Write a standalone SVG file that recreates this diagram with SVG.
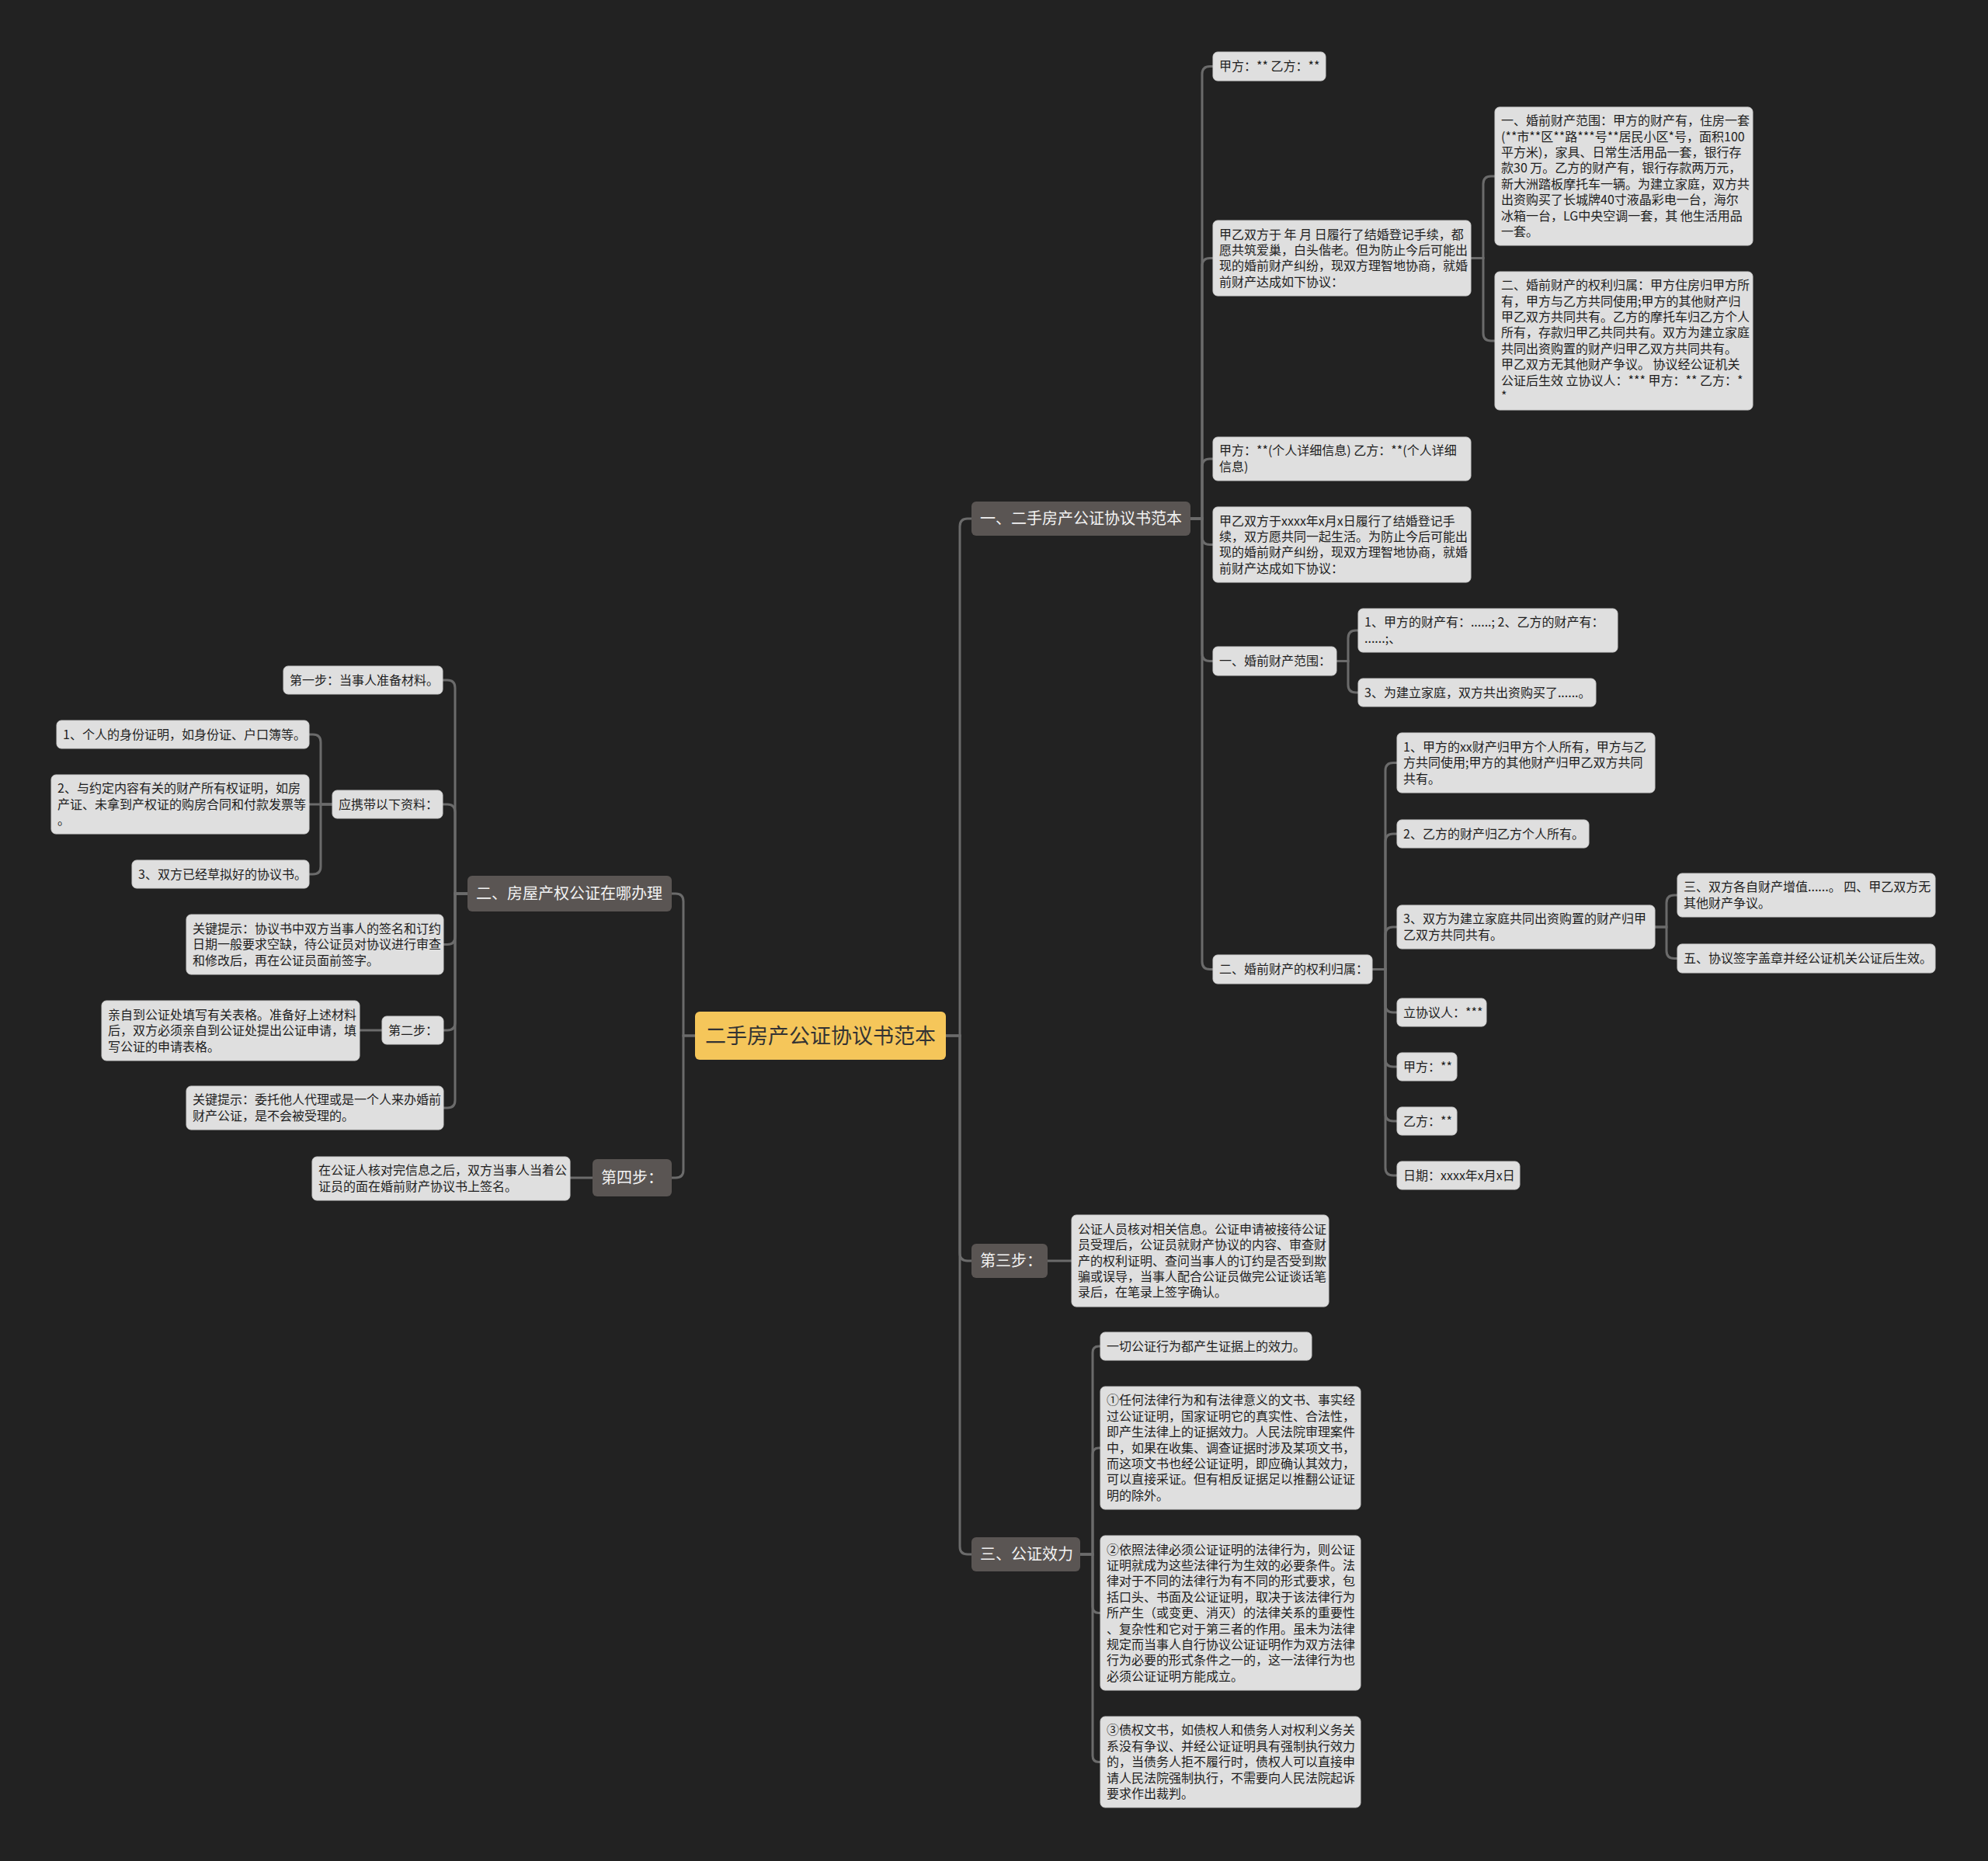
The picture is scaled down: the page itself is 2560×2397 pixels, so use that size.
<svg xmlns="http://www.w3.org/2000/svg" width="2560" height="2397" viewBox="0 0 2560 2397">
<style>
.bg{fill:#222222}
.lt rect{fill:#dfdfdf;stroke:#cfcfcf;stroke-width:1}
.lt text{font-family:"Noto Sans CJK SC","Noto Sans",sans-serif;font-size:16px;fill:#1e1e1e}
.dk rect{fill:#5a5553}
.dk text{font-family:"Noto Sans CJK SC","Noto Sans",sans-serif;font-size:20px;fill:#f2f2f2}
.rt rect{fill:#f5c65a}
.rt text{font-family:"Noto Sans CJK SC","Noto Sans",sans-serif;font-size:27px;fill:#333333;text-anchor:middle}
#connectors path{fill:none;stroke:#6b6b6b;stroke-width:3}
</style>
<rect class="bg" x="0" y="0" width="2560" height="2397"/>
<g id="connectors">
<path d="M1218 1334H1236V678Q1236 668 1246 668H1251"/>
<path d="M1218 1334H1236V1614Q1236 1624 1246 1624H1251"/>
<path d="M1218 1334H1236V1992Q1236 2002 1246 2002H1251"/>
<path d="M895 1334H880V1161Q880 1151 870 1151H865"/>
<path d="M895 1334H880V1507Q880 1517 870 1517H865"/>
<path d="M1533 668H1548V95.5Q1548 85.5 1558 85.5H1562"/>
<path d="M1533 668H1548V342.5Q1548 332.5 1558 332.5H1562"/>
<path d="M1533 668H1548V601Q1548 591 1558 591H1562"/>
<path d="M1533 668H1548V691.5Q1548 701.5 1558 701.5H1562"/>
<path d="M1533 668H1548V841.5Q1548 851.5 1558 851.5H1562"/>
<path d="M1533 668H1548V1238.5Q1548 1248.5 1558 1248.5H1562"/>
<path d="M1894 332.5H1910V237Q1910 227 1920 227H1925"/>
<path d="M1894 332.5H1910V429Q1910 439 1920 439H1925"/>
<path d="M1721 851.5H1736V822Q1736 812 1746 812H1749"/>
<path d="M1721 851.5H1736V882Q1736 892 1746 892H1749"/>
<path d="M1767 1248.5H1784V992.5Q1784 982.5 1794 982.5H1799"/>
<path d="M1767 1248.5H1784V1084Q1784 1074 1794 1074H1799"/>
<path d="M1767 1248.5H1784V1204Q1784 1194 1794 1194H1799"/>
<path d="M1767 1248.5H1784V1294Q1784 1304 1794 1304H1799"/>
<path d="M1767 1248.5H1784V1364Q1784 1374 1794 1374H1799"/>
<path d="M1767 1248.5H1784V1434Q1784 1444 1794 1444H1799"/>
<path d="M1767 1248.5H1784V1504Q1784 1514 1794 1514H1799"/>
<path d="M2131 1194H2146V1163Q2146 1153 2156 1153H2160"/>
<path d="M2131 1194H2146V1224.5Q2146 1234.5 2156 1234.5H2160"/>
<path d="M1349 1624H1380"/>
<path d="M1391 2002H1407V1742Q1407 1734 1415 1734H1417"/>
<path d="M1391 2002H1407V1873Q1407 1865 1415 1865H1417"/>
<path d="M1391 2002H1407V2069.5Q1407 2077.5 1415 2077.5H1417"/>
<path d="M1391 2002H1407V2261.5Q1407 2269.5 1415 2269.5H1417"/>
<path d="M602 1151H586V886Q586 876 576 876H570"/>
<path d="M602 1151H586V1046Q586 1036 576 1036H570"/>
<path d="M602 1151H586V1206.5Q586 1216.5 576 1216.5H570"/>
<path d="M602 1151H586V1317Q586 1327 576 1327H570"/>
<path d="M602 1151H586V1417Q586 1427 576 1427H570"/>
<path d="M428 1036H413V956Q413 946 403 946H398"/>
<path d="M428 1036H398"/>
<path d="M428 1036H413V1116Q413 1126 403 1126H398"/>
<path d="M492 1327H463"/>
<path d="M763 1517H734"/>
</g>
<g id="root" class="rt"><rect x="895" y="1303" width="323" height="62" rx="6"/><text x="1056.5" y="1343.5">二手房产公证协议书范本</text></g>
<g id="r1" class="dk"><rect x="1251" y="646" width="282" height="44" rx="6"/><text x="1262" y="675">一、二手房产公证协议书范本</text></g>
<g id="r2" class="dk"><rect x="1251" y="1602" width="98" height="44" rx="6"/><text x="1262" y="1631">第三步：</text></g>
<g id="r3" class="dk"><rect x="1251" y="1980" width="140" height="44" rx="6"/><text x="1262" y="2009">三、公证效力</text></g>
<g id="l1" class="dk"><rect x="602" y="1128" width="263" height="46" rx="6"/><text x="613" y="1158">二、房屋产权公证在哪办理</text></g>
<g id="l2" class="dk"><rect x="763" y="1493" width="102" height="48" rx="6"/><text x="774" y="1524">第四步：</text></g>
<g id="n1" class="lt"><rect x="1562" y="67" width="145" height="37" rx="6"/><text x="1570" y="91.1">甲方：** 乙方：**</text></g>
<g id="n2" class="lt"><rect x="1562" y="284" width="332" height="97" rx="6"/><text x="1570" y="307.5"><tspan x="1570">甲乙双方于 年 月 日履行了结婚登记手续，都</tspan><tspan x="1570" dy="20.4">愿共筑爱巢，白头偕老。但为防止今后可能出</tspan><tspan x="1570" dy="20.4">现的婚前财产纠纷，现双方理智地协商，就婚</tspan><tspan x="1570" dy="20.4">前财产达成如下协议：</tspan></text></g>
<g id="n2a" class="lt"><rect x="1925" y="138" width="332" height="178" rx="6"/><text x="1933" y="161.2"><tspan x="1933">一、婚前财产范围：甲方的财产有，住房一套</tspan><tspan x="1933" dy="20.4">(**市**区**路***号**居民小区*号，面积100</tspan><tspan x="1933" dy="20.4">平方米)，家具、日常生活用品一套，银行存</tspan><tspan x="1933" dy="20.4">款30 万。乙方的财产有，银行存款两万元，</tspan><tspan x="1933" dy="20.4">新大洲踏板摩托车一辆。为建立家庭，双方共</tspan><tspan x="1933" dy="20.4">出资购买了长城牌40寸液晶彩电一台，海尔</tspan><tspan x="1933" dy="20.4">冰箱一台，LG中央空调一套，其 他生活用品</tspan><tspan x="1933" dy="20.4">一套。</tspan></text></g>
<g id="n2b" class="lt"><rect x="1925" y="350" width="332" height="178" rx="6"/><text x="1933" y="373.2"><tspan x="1933">二、婚前财产的权利归属：甲方住房归甲方所</tspan><tspan x="1933" dy="20.4">有，甲方与乙方共同使用;甲方的其他财产归</tspan><tspan x="1933" dy="20.4">甲乙双方共同共有。乙方的摩托车归乙方个人</tspan><tspan x="1933" dy="20.4">所有，存款归甲乙共同共有。双方为建立家庭</tspan><tspan x="1933" dy="20.4">共同出资购置的财产归甲乙双方共同共有。</tspan><tspan x="1933" dy="20.4">甲乙双方无其他财产争议。 协议经公证机关</tspan><tspan x="1933" dy="20.4">公证后生效 立协议人：*** 甲方：** 乙方：*</tspan><tspan x="1933" dy="20.4">*</tspan></text></g>
<g id="n3" class="lt"><rect x="1562" y="563" width="332" height="56" rx="6"/><text x="1570" y="586.4"><tspan x="1570">甲方：**(个人详细信息) 乙方：**(个人详细</tspan><tspan x="1570" dy="20.4">信息)</tspan></text></g>
<g id="n4" class="lt"><rect x="1562" y="653" width="332" height="97" rx="6"/><text x="1570" y="676.5"><tspan x="1570">甲乙双方于xxxx年x月x日履行了结婚登记手</tspan><tspan x="1570" dy="20.4">续，双方愿共同一起生活。为防止今后可能出</tspan><tspan x="1570" dy="20.4">现的婚前财产纠纷，现双方理智地协商，就婚</tspan><tspan x="1570" dy="20.4">前财产达成如下协议：</tspan></text></g>
<g id="n5" class="lt"><rect x="1562" y="833" width="159" height="37" rx="6"/><text x="1570" y="857.1">一、婚前财产范围：</text></g>
<g id="n5a" class="lt"><rect x="1749" y="784" width="334" height="56" rx="6"/><text x="1757" y="807.4"><tspan x="1757">1、甲方的财产有：......; 2、乙方的财产有：</tspan><tspan x="1757" dy="20.4">......;、</tspan></text></g>
<g id="n5b" class="lt"><rect x="1749" y="874" width="306" height="36" rx="6"/><text x="1757" y="897.6">3、为建立家庭，双方共出资购买了......。</text></g>
<g id="n6" class="lt"><rect x="1562" y="1230" width="205" height="37" rx="6"/><text x="1570" y="1254.1">二、婚前财产的权利归属：</text></g>
<g id="n6a" class="lt"><rect x="1799" y="944" width="332" height="77" rx="6"/><text x="1807" y="967.7"><tspan x="1807">1、甲方的xx财产归甲方个人所有，甲方与乙</tspan><tspan x="1807" dy="20.4">方共同使用;甲方的其他财产归甲乙双方共同</tspan><tspan x="1807" dy="20.4">共有。</tspan></text></g>
<g id="n6b" class="lt"><rect x="1799" y="1056" width="247" height="36" rx="6"/><text x="1807" y="1079.6">2、乙方的财产归乙方个人所有。</text></g>
<g id="n6c" class="lt"><rect x="1799" y="1166" width="332" height="56" rx="6"/><text x="1807" y="1189.4"><tspan x="1807">3、双方为建立家庭共同出资购置的财产归甲</tspan><tspan x="1807" dy="20.4">乙双方共同共有。</tspan></text></g>
<g id="n6c1" class="lt"><rect x="2160" y="1125" width="332" height="56" rx="6"/><text x="2168" y="1148.4"><tspan x="2168">三、双方各自财产增值......。 四、甲乙双方无</tspan><tspan x="2168" dy="20.4">其他财产争议。</tspan></text></g>
<g id="n6c2" class="lt"><rect x="2160" y="1216" width="332" height="37" rx="6"/><text x="2168" y="1240.1">五、协议签字盖章并经公证机关公证后生效。</text></g>
<g id="n6d" class="lt"><rect x="1799" y="1286" width="115" height="36" rx="6"/><text x="1807" y="1309.6">立协议人：***</text></g>
<g id="n6e" class="lt"><rect x="1799" y="1356" width="77" height="36" rx="6"/><text x="1807" y="1379.6">甲方：**</text></g>
<g id="n6f" class="lt"><rect x="1799" y="1426" width="77" height="36" rx="6"/><text x="1807" y="1449.6">乙方：**</text></g>
<g id="n6g" class="lt"><rect x="1799" y="1496" width="158" height="36" rx="6"/><text x="1807" y="1519.6">日期：xxxx年x月x日</text></g>
<g id="n7" class="lt"><rect x="1380" y="1565" width="331" height="118" rx="6"/><text x="1388" y="1588.8"><tspan x="1388">公证人员核对相关信息。公证申请被接待公证</tspan><tspan x="1388" dy="20.4">员受理后，公证员就财产协议的内容、审查财</tspan><tspan x="1388" dy="20.4">产的权利证明、查问当事人的订约是否受到欺</tspan><tspan x="1388" dy="20.4">骗或误导，当事人配合公证员做完公证谈话笔</tspan><tspan x="1388" dy="20.4">录后，在笔录上签字确认。</tspan></text></g>
<g id="n8" class="lt"><rect x="1417" y="1716" width="272" height="36" rx="6"/><text x="1425" y="1739.6">一切公证行为都产生证据上的效力。</text></g>
<g id="n9" class="lt"><rect x="1417" y="1786" width="335" height="158" rx="6"/><text x="1425" y="1809.4"><tspan x="1425">①任何法律行为和有法律意义的文书、事实经</tspan><tspan x="1425" dy="20.4">过公证证明，国家证明它的真实性、合法性，</tspan><tspan x="1425" dy="20.4">即产生法律上的证据效力。人民法院审理案件</tspan><tspan x="1425" dy="20.4">中，如果在收集、调查证据时涉及某项文书，</tspan><tspan x="1425" dy="20.4">而这项文书也经公证证明，即应确认其效力，</tspan><tspan x="1425" dy="20.4">可以直接采证。但有相反证据足以推翻公证证</tspan><tspan x="1425" dy="20.4">明的除外。</tspan></text></g>
<g id="n10" class="lt"><rect x="1417" y="1978" width="335" height="199" rx="6"/><text x="1425" y="2001.5"><tspan x="1425">②依照法律必须公证证明的法律行为，则公证</tspan><tspan x="1425" dy="20.4">证明就成为这些法律行为生效的必要条件。法</tspan><tspan x="1425" dy="20.4">律对于不同的法律行为有不同的形式要求，包</tspan><tspan x="1425" dy="20.4">括口头、书面及公证证明，取决于该法律行为</tspan><tspan x="1425" dy="20.4">所产生（或变更、消灭）的法律关系的重要性</tspan><tspan x="1425" dy="20.4">、复杂性和它对于第三者的作用。虽未为法律</tspan><tspan x="1425" dy="20.4">规定而当事人自行协议公证证明作为双方法律</tspan><tspan x="1425" dy="20.4">行为必要的形式条件之一的，这一法律行为也</tspan><tspan x="1425" dy="20.4">必须公证证明方能成立。</tspan></text></g>
<g id="n11" class="lt"><rect x="1417" y="2211" width="335" height="117" rx="6"/><text x="1425" y="2234.3"><tspan x="1425">③债权文书，如债权人和债务人对权利义务关</tspan><tspan x="1425" dy="20.4">系没有争议、并经公证证明具有强制执行效力</tspan><tspan x="1425" dy="20.4">的，当债务人拒不履行时，债权人可以直接申</tspan><tspan x="1425" dy="20.4">请人民法院强制执行，不需要向人民法院起诉</tspan><tspan x="1425" dy="20.4">要求作出裁判。</tspan></text></g>
<g id="m1" class="lt"><rect x="365" y="858" width="205" height="36" rx="6"/><text x="373" y="881.6">第一步：当事人准备材料。</text></g>
<g id="m2" class="lt"><rect x="428" y="1018" width="142" height="36" rx="6"/><text x="436" y="1041.6">应携带以下资料：</text></g>
<g id="m2a" class="lt"><rect x="73" y="928" width="325" height="36" rx="6"/><text x="81" y="951.6">1、个人的身份证明，如身份证、户口簿等。</text></g>
<g id="m2b" class="lt"><rect x="66" y="998" width="332" height="76" rx="6"/><text x="74" y="1021.2"><tspan x="74">2、与约定内容有关的财产所有权证明，如房</tspan><tspan x="74" dy="20.4">产证、未拿到产权证的购房合同和付款发票等</tspan><tspan x="74" dy="20.4">。</tspan></text></g>
<g id="m2c" class="lt"><rect x="170" y="1108" width="228" height="36" rx="6"/><text x="178" y="1131.6">3、双方已经草拟好的协议书。</text></g>
<g id="m3" class="lt"><rect x="240" y="1178" width="331" height="77" rx="6"/><text x="248" y="1201.7"><tspan x="248">关键提示：协议书中双方当事人的签名和订约</tspan><tspan x="248" dy="20.4">日期一般要求空缺，待公证员对协议进行审查</tspan><tspan x="248" dy="20.4">和修改后，再在公证员面前签字。</tspan></text></g>
<g id="m4" class="lt"><rect x="492" y="1309" width="79" height="36" rx="6"/><text x="500" y="1332.6">第二步：</text></g>
<g id="m4a" class="lt"><rect x="131" y="1289" width="332" height="77" rx="6"/><text x="139" y="1312.7"><tspan x="139">亲自到公证处填写有关表格。准备好上述材料</tspan><tspan x="139" dy="20.4">后，双方必须亲自到公证处提出公证申请，填</tspan><tspan x="139" dy="20.4">写公证的申请表格。</tspan></text></g>
<g id="m5" class="lt"><rect x="240" y="1399" width="331" height="56" rx="6"/><text x="248" y="1422.4"><tspan x="248">关键提示：委托他人代理或是一个人来办婚前</tspan><tspan x="248" dy="20.4">财产公证，是不会被受理的。</tspan></text></g>
<g id="m6" class="lt"><rect x="402" y="1490" width="332" height="56" rx="6"/><text x="410" y="1513.4"><tspan x="410">在公证人核对完信息之后，双方当事人当着公</tspan><tspan x="410" dy="20.4">证员的面在婚前财产协议书上签名。</tspan></text></g>
</svg>
